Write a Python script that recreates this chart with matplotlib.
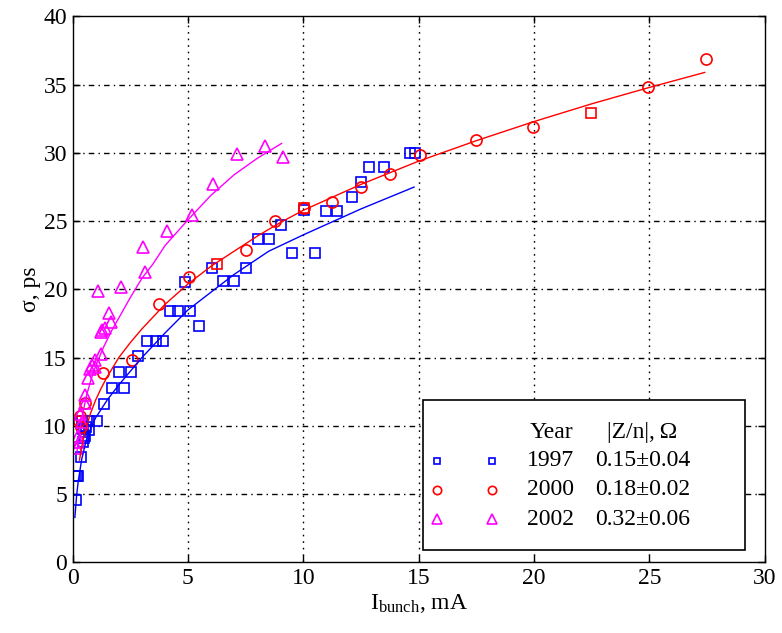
import matplotlib
matplotlib.use("Agg")
import matplotlib.pyplot as plt
import matplotlib.patches

# 1997: measured points and fit curve
i_1997 = [0.15, 0.10, 0.18, 0.23, 0.36, 0.44, 0.50, 0.52, 0.46, 0.58, 0.72, 0.39,
          0.73, 1.07, 1.36, 1.69, 2.25, 2.02, 2.52, 2.85, 3.24, 3.60, 3.92, 4.22,
          4.57, 5.09, 5.49, 4.89, 6.03, 6.53, 7.00, 7.52, 8.02, 8.52, 9.02, 9.52,
          10.02, 10.50, 11.00, 11.47, 12.10, 12.50, 12.83, 13.50, 14.62, 14.85]
s_1997 = [4.6, 6.3, 6.3, 6.3, 7.7, 8.8, 9.1, 9.3, 9.8, 9.95, 9.7, 10.4,
          10.4, 10.4, 11.6, 12.8, 12.8, 13.95, 13.95, 15.15, 16.2, 16.2, 16.2, 18.4,
          18.4, 18.4, 17.3, 20.55, 21.6, 20.6, 20.6, 21.6, 23.7, 23.7, 24.7, 22.65,
          25.8, 22.65, 25.75, 25.75, 26.8, 27.85, 28.95, 28.95, 30.0, 30.0]
fit_i_1997 = [0.10, 0.18, 0.25, 0.40, 0.60, 0.80, 1.0, 1.5, 2.0, 2.5, 3.0, 3.5,
              4.0, 5.0, 6.0, 7.0, 8.5, 10.0, 12.5, 14.8]
fit_s_1997 = [3.3, 5.0, 6.0, 7.6, 9.0, 9.9, 10.6, 11.9, 13.0, 14.0, 15.0, 15.9,
              16.8, 18.5, 19.8, 21.1, 22.8, 24.0, 25.9, 27.5]

# 2000
i_2000 = [0.26, 0.32, 0.38, 0.54, 1.30, 2.56, 3.76, 5.05, 7.50, 8.77, 10.03,
          11.25, 12.50, 13.76, 15.06, 17.50, 19.97, 24.95, 27.44]
s_2000 = [10.4, 10.7, 9.95, 11.7, 13.9, 14.8, 18.9, 20.9, 22.9, 25.0, 25.95,
          26.4, 27.5, 28.45, 29.85, 30.95, 31.9, 34.86, 36.9]
i_2000_sq = [6.27, 10.03, 22.46]
s_2000_sq = [21.9, 26.0, 32.95]
fit_i_2000 = [0.3, 0.4, 0.5, 0.75, 1.0, 1.25, 1.5, 2.0, 2.5, 3.0, 3.5, 4.0, 5.0,
              6.0, 7.0, 8.0, 9.0, 10.0, 12.5, 15.0, 17.5, 20.0, 22.5, 25.0, 27.4]
fit_s_2000 = [7.5, 8.5, 9.3, 10.8, 11.9, 12.8, 13.6, 15.0, 16.1, 17.1, 18.0, 18.9, 20.4,
              21.7, 22.8, 23.9, 24.9, 25.8, 27.7, 29.4, 30.9, 32.3, 33.6, 34.8, 35.9]

# 2002
i_2002 = [0.19, 0.26, 0.23, 0.33, 0.41, 0.52, 0.55, 0.67, 0.77, 0.84, 0.96, 0.98,
          1.24, 1.24, 1.27, 1.39, 1.68, 1.59, 1.10, 2.09, 3.14, 3.06, 4.10, 5.16,
          6.10, 7.14, 8.34, 9.10]
s_2002 = [8.4, 8.85, 9.3, 10.9, 10.3, 11.7, 12.3, 13.5, 14.15, 14.5, 14.3, 14.8,
          15.3, 16.9, 17.0, 17.2, 17.6, 18.3, 19.9, 20.2, 21.3, 23.1, 24.3, 25.45,
          27.7, 29.9, 30.5, 29.7]
fit_i_2002 = [0.19, 0.29, 0.44, 0.6, 0.8, 1.0, 1.35, 1.7, 2.0, 2.5, 3.0, 3.5,
              4.0, 5.0, 6.0, 7.0, 8.0, 9.06]
fit_s_2002 = [8.1, 9.5, 10.9, 12.2, 13.4, 14.4, 15.8, 17.0, 17.9, 19.4, 20.8, 21.9,
              23.2, 25.1, 26.9, 28.4, 29.6, 30.7]

years = ["1997", "2000", "2002"]
impedances = ["0.15\u00b10.04", "0.18\u00b10.02", "0.32\u00b10.06"]

BLUE = "#0000ff"
RED = "#ff0000"
MAGENTA = "#ff00ff"

plt.rcParams.update(
    {
        "font.family": "Liberation Serif",
        "font.size": 17,
        "mathtext.fontset": "custom",
        "mathtext.rm": "Liberation Serif",
        "mathtext.it": "Liberation Serif:italic",
    }
)

fig = plt.figure(figsize=(7.82, 6.33), dpi=100)
ax = fig.add_axes([0.0928, 0.1114, 0.8851, 0.8626])

mk = dict(linestyle="none", markerfacecolor="none", markeredgewidth=1.2)
ax.plot(i_1997, s_1997, marker="s", markersize=6.5, color=BLUE, **mk)
ax.plot(i_2000, s_2000, marker="o", markersize=8, color=RED, **mk)
ax.plot(i_2000_sq, s_2000_sq, marker="s", markersize=6.5, color=RED, **mk)
ax.plot(i_2002, s_2002, marker="^", markersize=8.5, color=MAGENTA, **mk)

ax.plot(fit_i_1997, fit_s_1997, color=BLUE, lw=1)
ax.plot(fit_i_2000, fit_s_2000, color=RED, lw=1)
ax.plot(fit_i_2002, fit_s_2002, color=MAGENTA, lw=1)

ax.set_xlim(0, 30)
ax.set_ylim(0, 40)
ax.set_xticks(range(0, 31, 5))
ax.set_yticks(range(0, 41, 5))
ax.tick_params(direction="in", length=5, width=1, top=True, right=True, pad=4)
for sp in ax.spines.values():
    sp.set_linewidth(1)

for x in range(5, 30, 5):
    ax.axvline(x, color="black", lw=1, linestyle=(0, (1.2, 3.5)), zorder=0)
for y in range(5, 40, 5):
    ax.axhline(y, color="black", lw=1, linestyle=(0, (4, 3, 1, 3)), zorder=0)

ax.set_xlabel(r"I$_{\mathrm{bunch}}$, mA", labelpad=2)
ax.set_ylabel("\u03c3, ps", labelpad=2)

# legend box drawn by hand (two symbol columns plus a small table)
box = matplotlib.patches.Rectangle(
    (0.506, 0.023), 0.466, 0.275, transform=ax.transAxes,
    facecolor="white", edgecolor="black", lw=1.2, zorder=5,
)
ax.add_patch(box)
leg_markers = [("s", BLUE, 5), ("o", RED, 6), ("^", MAGENTA, 6.5)]
rows_y = [0.1864, 0.1328, 0.0791]
ax.text(0.660, 0.2377, "Year", transform=ax.transAxes, va="center", ha="left", zorder=6)
ax.text(0.772, 0.2377, "|Z/n|,\u2009\u03a9", transform=ax.transAxes, va="center", ha="left", zorder=6)
for (m, c, ms), yr, z, yy in zip(leg_markers, years, impedances, rows_y):
    for xx in (0.526, 0.606):
        ax.plot(xx, yy, marker=m, color=c, markersize=ms, markerfacecolor="none",
                markeredgewidth=1.2, transform=ax.transAxes, zorder=6, clip_on=False)
    ax.text(0.657, yy, yr, transform=ax.transAxes, va="center", ha="left", zorder=6)
    ax.text(0.755, yy, z, transform=ax.transAxes, va="center", ha="left", zorder=6)

fig.savefig("out.png", dpi=100)
